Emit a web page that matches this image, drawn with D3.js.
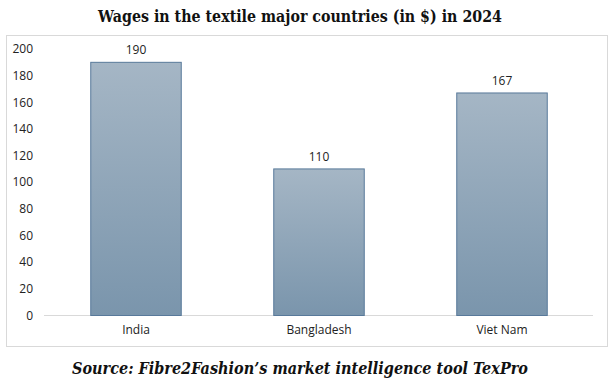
<!DOCTYPE html>
<html><head><meta charset="utf-8">
<script src="https://cdn.jsdelivr.net/npm/d3@7"></script>
<style>body{margin:0;background:#fff}svg{display:block}</style>
</head><body>
<script>
const categories = ["India", "Bangladesh", "Viet Nam"];
const wages = [190, 110, 167];
const yTicks = [0, 20, 40, 60, 80, 100, 120, 140, 160, 180, 200];
const titleText = "Wages in the textile major countries (in $) in 2024";
const sourceText = "Source: Fibre2Fashion\u2019s market intelligence tool TexPro";

const W = 616, H = 380;
const svg = d3.select("body").append("svg").attr("width", W).attr("height", H);
const defs = svg.append("defs");
const g = defs.append("linearGradient").attr("id", "barg").attr("x1", 0).attr("y1", 0).attr("x2", 0).attr("y2", 1);
g.append("stop").attr("offset", "0%").attr("stop-color", "#a5b6c5");
g.append("stop").attr("offset", "100%").attr("stop-color", "#7a95ac");

svg.append("rect").attr("x", 6.5).attr("y", 35.5).attr("width", 601).attr("height", 311)
  .attr("fill", "#fff").attr("stroke", "#d9d9d9");

const serif = "'DejaVu Serif', Georgia, serif";
svg.append("text").attr("x", 300).attr("y", 21.5).attr("text-anchor", "middle")
  .attr("font-family", serif).attr("font-weight", "bold")
  .attr("font-size", 17).attr("fill", "#111").attr("textLength", 404).attr("lengthAdjust", "spacingAndGlyphs")
  .text(titleText);

const x = d3.scaleBand().domain(categories).range([44.5, 593.5]).paddingInner(0.5).paddingOuter(0.25);
const y = d3.scaleLinear().domain([0, 200]).range([315.5, 49]);

const font = "'Open Sans', 'Liberation Sans', Arial, sans-serif";

svg.append("line").attr("x1", 44).attr("x2", 593).attr("y1", y(0)).attr("y2", y(0))
  .attr("stroke", "#d9d9d9").attr("stroke-width", 1);

svg.append("g").selectAll("text").data(yTicks).join("text")
  .attr("x", 33).attr("y", d => y(d)).attr("dy", "0.35em").attr("text-anchor", "end")
  .attr("font-family", font).attr("font-size", 12).attr("fill", "#222")
  .text(d => d);

const data = categories.map((c, i) => ({c, v: wages[i]}));
svg.append("g").selectAll("rect").data(data).join("rect")
  .attr("x", d => x(d.c) + 0.5).attr("y", d => y(d.v))
  .attr("width", x.bandwidth() - 1).attr("height", d => y(0) - y(d.v))
  .attr("fill", "url(#barg)").attr("stroke", "#58799a").attr("stroke-width", 1);

svg.append("g").selectAll("text").data(data).join("text")
  .attr("x", d => x(d.c) + x.bandwidth() / 2).attr("y", d => y(d.v) - 8)
  .attr("text-anchor", "middle").attr("font-family", font).attr("font-size", 12).attr("fill", "#222")
  .text(d => d.v);

svg.append("g").selectAll("text").data(categories).join("text")
  .attr("x", d => x(d) + x.bandwidth() / 2).attr("y", 334)
  .attr("text-anchor", "middle").attr("font-family", font).attr("font-size", 12).attr("fill", "#222")
  .text(d => d);

svg.append("text").attr("x", 300).attr("y", 374).attr("text-anchor", "middle")
  .attr("font-family", serif).attr("font-weight", "bold").attr("font-style", "italic")
  .attr("font-size", 17).attr("fill", "#111").attr("textLength", 456).attr("lengthAdjust", "spacingAndGlyphs")
  .text(sourceText);
</script>
</body></html>
